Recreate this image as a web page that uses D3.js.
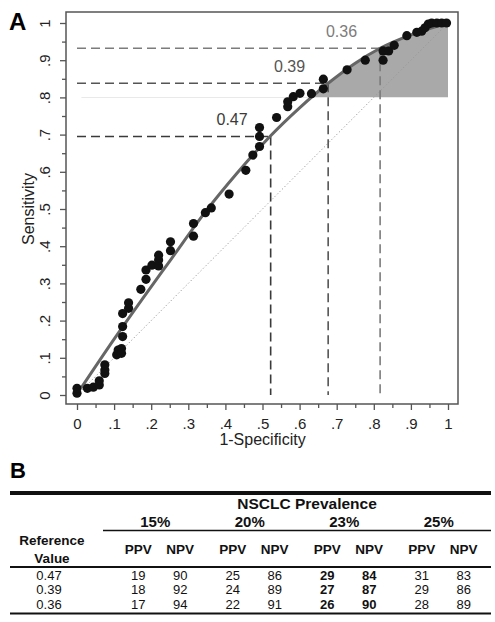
<!DOCTYPE html>
<html>
<head>
<meta charset="utf-8">
<script src="https://cdn.jsdelivr.net/npm/d3@7"></script>
<style>
  body { margin: 0; background: #fff; }
  svg { display: block; font-family: "Liberation Sans", Arial, sans-serif; }
</style>
</head>
<body>
<div id="chart"></div>
<script>
// observed ROC points (1-specificity, sensitivity)
var rocFpr = [0, 0, 0.028, 0.044, 0.06, 0.06, 0.075, 0.075, 0.075, 0.107, 0.111, 0.12, 0.12,
  0.123, 0.123, 0.123, 0.139, 0.139, 0.172, 0.186, 0.186, 0.202, 0.22, 0.22, 0.22, 0.252, 0.252,
  0.314, 0.314, 0.346, 0.362, 0.41, 0.455, 0.474, 0.492, 0.492, 0.492, 0.538, 0.568, 0.568, 0.583,
  0.601, 0.632, 0.664, 0.664, 0.728, 0.777, 0.825, 0.825, 0.84, 0.855, 0.889, 0.916, 0.929, 0.938,
  0.947, 0.956, 0.97, 0.983, 0.996];
var rocTpr = [0.005, 0.018, 0.018, 0.021, 0.027, 0.038, 0.058, 0.067, 0.081, 0.108, 0.121, 0.125, 0.112,
  0.157, 0.184, 0.219, 0.233, 0.248, 0.284, 0.311, 0.336, 0.349, 0.347, 0.363, 0.376, 0.388, 0.412,
  0.427, 0.461, 0.49, 0.503, 0.54, 0.604, 0.645, 0.668, 0.695, 0.719, 0.746, 0.775, 0.788, 0.802,
  0.811, 0.81, 0.823, 0.849, 0.874, 0.9, 0.9, 0.925, 0.925, 0.94, 0.966, 0.975, 0.978, 0.987,
  0.997, 1, 1, 1, 1];

// fitted ROC curve
var fitFpr = [0.012, 0.1, 0.174, 0.25, 0.348, 0.43, 0.52, 0.6, 0.677, 0.75, 0.817, 0.9, 1];
var fitTpr = [0.02, 0.15, 0.255, 0.36, 0.495, 0.595, 0.695, 0.772, 0.838, 0.892, 0.932, 0.968, 1];

// reference value cut-offs
var refValues = ["0.47", "0.39", "0.36"];
var cutFpr = [0.522, 0.677, 0.817];
var cutTpr = [0.695, 0.838, 0.932];
var cutColors = ["#3a3a3a", "#555", "#7c7c7c"];
var shadeFrom = 0.8;

var tickValues = [0, .1, .2, .3, .4, .5, .6, .7, .8, .9, 1];
var tickLabels = ["0", ".1", ".2", ".3", ".4", ".5", ".6", ".7", ".8", ".9", "1"];
var minorTicks = [.05, .15, .25, .35, .45, .55, .65, .75, .85, .95];

// table B
var prevalence = ["15%", "20%", "23%", "25%"];
var ppv = [[19, 25, 29, 31], [18, 24, 27, 29], [17, 22, 26, 28]];
var npv = [[90, 86, 84, 83], [92, 89, 87, 86], [94, 91, 90, 89]];
var boldPrevalence = "23%";

var svg = d3.select("#chart")
  .append("svg")
  .attr("width", 495)
  .attr("height", 622);

var xScale = d3.scaleLinear().domain([0, 1]).range([77, 448]);
var yScale = d3.scaleLinear().domain([0, 1]).range([395, 23]);

var rocPoints = rocFpr.map((d, i) => [d, rocTpr[i]]);
var fitPoints = fitFpr.map((d, i) => [d, fitTpr[i]]);

// panel letters
svg.append("text")
  .attr("x", 9).attr("y", 30)
  .attr("font-size", 24).attr("font-weight", "bold")
  .text("A");

// shaded area above 0.8 under the curve
svg.append("clipPath").attr("id", "shadeClip")
  .append("rect")
  .attr("x", xScale(0)).attr("y", yScale(1))
  .attr("width", xScale(1) - xScale(0))
  .attr("height", yScale(shadeFrom) - yScale(1));

svg.append("path")
  .datum(fitPoints)
  .attr("clip-path", "url(#shadeClip)")
  .attr("fill", "#a9a9a9")
  .attr("d", d3.area()
    .x(d => xScale(d[0]))
    .y0(yScale(shadeFrom))
    .y1(d => yScale(d[1]))
    .curve(d3.curveMonotoneX));

// chance line
svg.append("line")
  .attr("x1", xScale(0)).attr("y1", yScale(0))
  .attr("x2", xScale(1)).attr("y2", yScale(1))
  .attr("stroke", "#999")
  .attr("stroke-width", 1)
  .attr("stroke-dasharray", "1.2,2.3");

// cut-off dashed lines
refValues.forEach(function(r, i) {
  var g = svg.append("g")
    .attr("stroke", cutColors[i])
    .attr("stroke-width", 1.6)
    .attr("stroke-dasharray", "9,5");
  g.append("line")
    .attr("x1", xScale(0)).attr("y1", yScale(cutTpr[i]))
    .attr("x2", xScale(cutFpr[i])).attr("y2", yScale(cutTpr[i]));
  g.append("line")
    .attr("x1", xScale(cutFpr[i])).attr("y1", yScale(cutTpr[i]))
    .attr("x2", xScale(cutFpr[i])).attr("y2", yScale(0));

  svg.append("text")
    .attr("x", xScale(cutFpr[i] - 0.104))
    .attr("y", yScale(cutTpr[i]) - 11.5)
    .attr("text-anchor", "middle")
    .attr("font-size", 16)
    .attr("fill", cutColors[i])
    .text(r);
});

// fitted curve
svg.append("path")
  .datum(fitPoints)
  .attr("fill", "none")
  .attr("stroke", "#666")
  .attr("stroke-width", 3)
  .attr("d", d3.line()
    .x(d => xScale(d[0]))
    .y(d => yScale(d[1]))
    .curve(d3.curveMonotoneX));

// observed points
svg.selectAll(".dot")
  .data(rocPoints)
  .enter()
  .append("circle")
  .attr("class", "dot")
  .attr("cx", d => xScale(d[0]))
  .attr("cy", d => yScale(d[1]))
  .attr("r", 4.6)
  .attr("fill", "#111");

// plot frame
svg.append("rect")
  .attr("x", 66).attr("y", 12)
  .attr("width", 392).attr("height", 392)
  .attr("fill", "none")
  .attr("stroke", "#555")
  .attr("stroke-width", 1.5);

// axes
function styleAxis(g) {
  g.select(".domain").remove();
  g.selectAll("line").attr("stroke", "#555").attr("stroke-width", 1.3);
  g.attr("font-family", null).attr("font-size", 15);
  g.selectAll("text").attr("fill", "#222");
}

svg.append("g")
  .attr("transform", "translate(66,0)")
  .call(d3.axisLeft(yScale).tickValues(minorTicks).tickSize(4).tickFormat(""))
  .call(styleAxis);

svg.append("g")
  .attr("transform", "translate(66,0)")
  .call(d3.axisLeft(yScale).tickValues(tickValues).tickSize(6).tickFormat((d, i) => tickLabels[i]))
  .call(styleAxis)
  .selectAll("text")
  .attr("x", null)
  .attr("text-anchor", "middle")
  .attr("transform", "translate(-21,0) rotate(-90)")
  .attr("dy", "0.36em");

svg.append("g")
  .attr("transform", "translate(0,404)")
  .call(d3.axisBottom(xScale).tickValues(minorTicks).tickSize(4).tickFormat(""))
  .call(styleAxis);

svg.append("g")
  .attr("transform", "translate(0,404)")
  .call(d3.axisBottom(xScale).tickValues(tickValues).tickSize(6).tickFormat((d, i) => tickLabels[i]))
  .call(styleAxis)
  .selectAll("text")
  .attr("y", 14);

// axis labels
svg.append("text")
  .attr("transform", "translate(28," + (yScale(0.5)) + ") rotate(-90)")
  .attr("text-anchor", "middle")
  .attr("dy", "0.36em")
  .attr("font-size", 16)
  .attr("fill", "#222")
  .text("Sensitivity");

svg.append("text")
  .attr("x", xScale(0.5)).attr("y", 445)
  .attr("text-anchor", "middle")
  .attr("font-size", 16)
  .attr("fill", "#222")
  .text("1-Specificity");

// ---- table B ----
svg.append("text")
  .attr("x", 10).attr("y", 478)
  .attr("font-size", 22).attr("font-weight", "bold")
  .text("B");

var groupScale = d3.scaleBand().domain(prevalence).range([112, 490]);
var pairOffset = 21;
function colX(p, kind) {
  var c = groupScale(p) + groupScale.bandwidth() / 2;
  return kind === "PPV" ? c - pairOffset : c + pairOffset;
}

var table = svg.append("g").attr("font-size", 13.5).attr("fill", "#111");

table.append("rect")
  .attr("x", 10).attr("y", 491).attr("width", 481).attr("height", 4)
  .attr("fill", "#111");

table.append("text")
  .attr("x", (groupScale.range()[0] + groupScale.range()[1]) / 2 + 6)
  .attr("y", 508.5)
  .attr("text-anchor", "middle")
  .attr("font-weight", "bold")
  .attr("font-size", 15.5)
  .text("NSCLC Prevalence");

table.selectAll(".prev")
  .data(prevalence)
  .enter()
  .append("text")
  .attr("class", "prev")
  .attr("x", d => groupScale(d) + groupScale.bandwidth() / 2 - 4)
  .attr("y", 527)
  .attr("text-anchor", "middle")
  .attr("font-weight", "bold")
  .attr("font-size", 15)
  .text(d => d);

table.append("line")
  .attr("x1", 103).attr("x2", 491)
  .attr("y1", 530.5).attr("y2", 530.5)
  .attr("stroke", "#111").attr("stroke-width", 1.5);

table.append("text")
  .attr("x", 52).attr("y", 545)
  .attr("text-anchor", "middle").attr("font-weight", "bold")
  .text("Reference");
table.append("text")
  .attr("x", 52).attr("y", 563)
  .attr("text-anchor", "middle").attr("font-weight", "bold")
  .text("Value");

var headerCells = [];
prevalence.forEach(p => { headerCells.push([p, "PPV"]); headerCells.push([p, "NPV"]); });

table.selectAll(".hdr")
  .data(headerCells)
  .enter()
  .append("text")
  .attr("class", "hdr")
  .attr("x", d => colX(d[0], d[1]))
  .attr("y", 554)
  .attr("text-anchor", "middle")
  .attr("font-weight", "bold")
  .text(d => d[1]);

table.append("line")
  .attr("x1", 10).attr("x2", 491)
  .attr("y1", 567).attr("y2", 567)
  .attr("stroke", "#111").attr("stroke-width", 1.8);

var rowY = d3.scalePoint().domain(refValues).range([579.5, 608.5]);

var body = table.append("g").attr("font-size", 13);

body.selectAll(".ref")
  .data(refValues)
  .enter()
  .append("text")
  .attr("class", "ref")
  .attr("x", 49)
  .attr("y", d => rowY(d))
  .attr("text-anchor", "middle")
  .text(d => d);

var cells = [];
refValues.forEach(function(r, i) {
  prevalence.forEach(function(p, j) {
    cells.push({ ref: r, prev: p, kind: "PPV", val: ppv[i][j] });
    cells.push({ ref: r, prev: p, kind: "NPV", val: npv[i][j] });
  });
});

body.selectAll(".cell")
  .data(cells)
  .enter()
  .append("text")
  .attr("class", "cell")
  .attr("x", d => colX(d.prev, d.kind))
  .attr("y", d => rowY(d.ref))
  .attr("text-anchor", "middle")
  .attr("font-weight", d => d.prev === boldPrevalence ? "bold" : "normal")
  .text(d => d.val);

table.append("line")
  .attr("x1", 10).attr("x2", 491)
  .attr("y1", 613.5).attr("y2", 613.5)
  .attr("stroke", "#111").attr("stroke-width", 1.8);
</script>
</body>
</html>
